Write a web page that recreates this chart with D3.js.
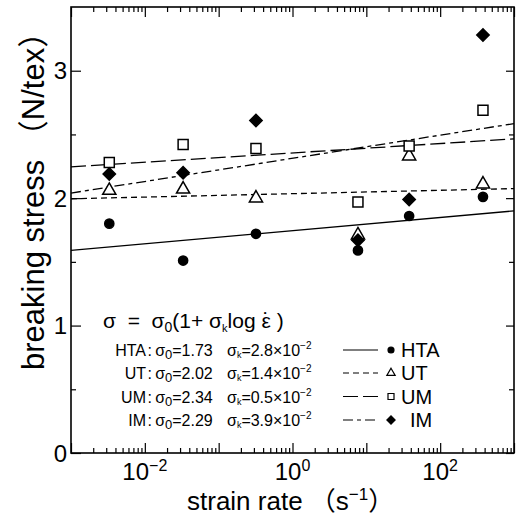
<!DOCTYPE html>
<html>
<head>
<meta charset="utf-8">
<script src="https://cdn.jsdelivr.net/npm/d3@7"></script>
<style>
  body { margin: 0; background: #fff; }
  svg { display: block; font-family: "Liberation Sans", Arial, Helvetica, "Noto Sans CJK JP", sans-serif; }
</style>
</head>
<body>
<div id="chart"></div>
<script>
// measured points
const strainRates = [0.0033, 0.033, 0.32, 7.7, 38, 380];
const htaStress = [1.80, 1.51, 1.72, 1.59, 1.86, 2.01];
const utStress  = [2.06, 2.07, 2.00, 1.71, 2.33, 2.11];
const umStress  = [2.28, 2.42, 2.39, 1.97, 2.41, 2.69];
const imStress  = [2.19, 2.20, 2.61, 1.67, 1.99, 3.28];

// fitted lines, value at each end of the rate axis
const fitRates = [1e-3, 1e3];
const htaFit = [1.59, 1.90];
const utFit  = [1.995, 2.075];
const umFit  = [2.245, 2.465];
const imFit  = [2.04, 2.585];

const seriesNames = ["HTA", "UT", "UM", "IM"];
const sigma0Labels = ["1.73", "2.02", "2.34", "2.29"];
const sigmaKLabels = ["2.8", "1.4", "0.5", "3.9"];

const yMajorTicks = [0, 1, 2, 3];
const yMinorTicks = [0.5, 1.5, 2.5];
const xLabelExponents = [-2, 0, 2];

function renderChart(selector) {
    const W = 521, H = 521;
    const margin = {top: 7, right: 7, bottom: 68, left: 71};
    const width = W - margin.left - margin.right;
    const height = H - margin.top - margin.bottom;

    const svg = d3.select(selector).append("svg")
        .attr("width", W)
        .attr("height", H);

    const g = svg.append("g")
        .attr("transform", `translate(${margin.left}, ${margin.top})`);

    const x = d3.scaleLog().domain([1e-3, 1e3]).range([0, width]);
    const y = d3.scaleLinear().domain([0, 3.5]).range([height, 0]);

    // ticks (inward, all four sides)
    const decades = d3.range(-3, 4).map(e => Math.pow(10, e));
    const minorX = d3.range(-3, 3).flatMap(e => d3.range(2, 10).map(k => k * Math.pow(10, e)));

    function ticks(axis, values, size, transform) {
        g.append("g")
            .attr("transform", transform)
            .call(axis.tickValues(values).tickSize(size).tickFormat(""))
            .call(s => s.select(".domain").remove())
            .selectAll("line").attr("stroke", "#000").attr("stroke-width", 1.2);
    }
    ticks(d3.axisBottom(x), decades, -10, `translate(0, ${height})`);
    ticks(d3.axisBottom(x), minorX, -5, `translate(0, ${height})`);
    ticks(d3.axisTop(x), decades, -10, "translate(0, 0)");
    ticks(d3.axisTop(x), minorX, -5, "translate(0, 0)");
    ticks(d3.axisLeft(y), yMajorTicks, -10, "translate(0, 0)");
    ticks(d3.axisLeft(y), yMinorTicks, -5, "translate(0, 0)");
    ticks(d3.axisRight(y), yMajorTicks, -8, `translate(${width}, 0)`);
    ticks(d3.axisRight(y), yMinorTicks, -5, `translate(${width}, 0)`);

    g.append("rect")
        .attr("width", width)
        .attr("height", height)
        .attr("fill", "none")
        .attr("stroke", "#000")
        .attr("stroke-width", 1.6);

    // tick labels
    g.selectAll(".ylab")
        .data(yMajorTicks)
        .enter().append("text")
        .attr("x", -4)
        .attr("y", d => y(d) + 8.5)
        .attr("text-anchor", "end")
        .attr("font-size", 24)
        .text(d => d);

    const xl = g.selectAll(".xlab")
        .data(xLabelExponents)
        .enter().append("text")
        .attr("x", d => x(Math.pow(10, d)))
        .attr("y", height + 27)
        .attr("text-anchor", "middle")
        .attr("font-size", 24);
    xl.append("tspan").text("10");
    xl.append("tspan").attr("font-size", 16).attr("dy", -9).text(d => d < 0 ? "\u2212" + (-d) : d);

    // axis titles
    const xt = svg.append("text")
        .attr("x", 187)
        .attr("y", 510)
        .attr("font-size", 26);
    xt.append("tspan").text("strain rate \uFF08s");
    xt.append("tspan").attr("font-size", 17).attr("dy", -10).text("\u22121");
    xt.append("tspan").attr("dy", 10).text("\uFF09");

    svg.append("text")
        .attr("transform", "translate(43.5, 370) rotate(-90)")
        .attr("font-size", 31)
        .text("breaking stress \uFF08N/tex\uFF09");

    // series
    const series = [
        {values: htaStress, fit: htaFit, symbol: "circle", dash: null},
        {values: utStress,  fit: utFit,  symbol: "triangle", dash: "6,4"},
        {values: umStress,  fit: umFit,  symbol: "square", dash: "15,5"},
        {values: imStress,  fit: imFit,  symbol: "diamond", dash: "10,4,4,4"}
    ];

    const symbolPath = (type, big) => {
        if (type === "circle") return d3.symbol(d3.symbolCircle, big ? 66 : 28)();
        if (type === "triangle") return d3.symbol(d3.symbolTriangle, big ? 75 : 30)();
        if (type === "square") return d3.symbol(d3.symbolSquare, big ? 100 : 36)();
        return d3.symbol(d3.symbolSquare, big ? 76 : 34)();
    };
    const filled = type => type === "circle" || type === "diamond";
    const rot = type => type === "diamond" ? " rotate(45)" : "";

    const line = d3.line().x(d => x(d[0])).y(d => y(d[1]));

    series.forEach(s => {
        g.append("path")
            .datum(fitRates.map((r, i) => [r, s.fit[i]]))
            .attr("d", line)
            .attr("fill", "none")
            .attr("stroke", "#000")
            .attr("stroke-width", 1.3)
            .attr("stroke-dasharray", s.dash);
    });

    series.forEach(s => {
        g.selectAll(null)
            .data(strainRates.map((r, i) => [r, s.values[i]]))
            .enter().append("path")
            .attr("transform", d => `translate(${x(d[0])}, ${y(d[1])})${rot(s.symbol)}`)
            .attr("d", symbolPath(s.symbol, true))
            .attr("fill", filled(s.symbol) ? "#000" : "#fff")
            .attr("stroke", "#000")
            .attr("stroke-width", 1.5);
    });

    // formula block
    const f = svg.append("text")
        .attr("x", 103)
        .attr("y", 328)
        .attr("font-size", 21)
        .style("white-space", "pre");
    f.append("tspan").text("\u03C3  =  \u03C3");
    f.append("tspan").attr("font-size", 14).attr("dy", 4).text("0");
    f.append("tspan").attr("dy", -4).text("(1+ \u03C3");
    f.append("tspan").attr("font-size", 11).attr("dy", 4).text("k");
    f.append("tspan").attr("dy", -4).text("log ");
    f.append("tspan").text("\u03B5");
    f.append("tspan").text(" )");

    // dot over the epsilon (rate)
    const epsIdx = f.text().indexOf("\u03B5");
    const epsBox = f.node().getExtentOfChar(epsIdx);
    svg.append("text")
        .attr("x", epsBox.x + epsBox.width / 2)
        .attr("y", 328)
        .attr("text-anchor", "middle")
        .attr("font-size", 22)
        .text("\u02D9");

    const rowY = [356, 379, 402.5, 426];

    seriesNames.forEach((name, i) => {
        svg.append("text")
            .attr("x", 146).attr("y", rowY[i])
            .attr("text-anchor", "end")
            .attr("font-size", 16)
            .text(name);
        const t = svg.append("text")
            .attr("x", 147.5).attr("y", rowY[i])
            .attr("font-size", 16);
        t.append("tspan").text(":\u2009\u03C3");
        t.append("tspan").attr("font-size", 13).attr("dy", 3).text("0");
        t.append("tspan").attr("dy", -3).text("=" + sigma0Labels[i]);
        const k = svg.append("text")
            .attr("x", 227).attr("y", rowY[i])
            .attr("font-size", 16);
        k.append("tspan").text("\u03C3");
        k.append("tspan").attr("font-size", 9).attr("dy", 2).text("k");
        k.append("tspan").attr("dy", -2).text("=" + sigmaKLabels[i] + "\u00D710");
        k.append("tspan").attr("font-size", 10).attr("dy", -7).text("\u22122");
    });

    // legend
    seriesNames.forEach((name, i) => {
        const s = series[i];
        const cy = rowY[i] - 6;
        svg.append("line")
            .attr("x1", 343).attr("x2", 378)
            .attr("y1", cy).attr("y2", cy)
            .attr("stroke", "#000")
            .attr("stroke-width", 1.1)
            .attr("stroke-dasharray", s.dash);
        svg.append("path")
            .attr("transform", `translate(391, ${cy})${rot(s.symbol)}`)
            .attr("d", symbolPath(s.symbol, false))
            .attr("fill", filled(s.symbol) ? "#000" : "#fff")
            .attr("stroke", "#000")
            .attr("stroke-width", 1.2);
        svg.append("text")
            .attr("x", name === "IM" ? 410 : 401)
            .attr("y", rowY[i] + 1)
            .attr("font-size", 20)
            .text(name);
    });
}

renderChart("#chart");
</script>
</body>
</html>
